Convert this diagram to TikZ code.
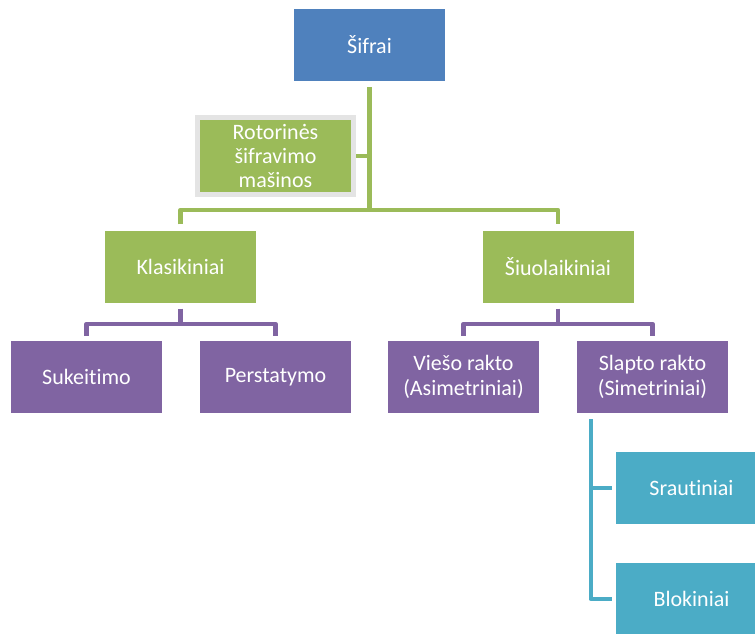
\documentclass[tikz,border=0pt]{standalone}
\usepackage{fontspec}
\setmainfont[Ligatures={NoCommon}]{Carlito}
\definecolor{cblue}{HTML}{4F81BD}
\definecolor{cgreen}{HTML}{9BBB59}
\definecolor{cpurple}{HTML}{8064A2}
\definecolor{cteal}{HTML}{4BACC6}
\definecolor{cframe}{HTML}{E4E4E4}
\tikzset{
  box/.style={rectangle, inner sep=0pt, minimum width=151pt, minimum height=72pt,
    text=white, align=center, font=\fontsize{22}{24.4}\selectfont},
  bluebox/.style={box, fill=cblue},
  greenbox/.style={box, fill=cgreen},
  purplebox/.style={box, fill=cpurple},
  tealbox/.style={box, fill=cteal},
  conn/.style={line width=4.5pt, line join=round},
  gline/.style={conn, draw=cgreen},
  pline/.style={conn, draw=cpurple},
  tline/.style={conn, draw=cteal},
}
\begin{document}
\begin{tikzpicture}[x=1pt,y=-1pt]
\useasboundingbox (0,0) rectangle (755,633);
\clip (0,0) rectangle (755,633);

% top level
\node[bluebox] (sifrai) at (369.5,45) {Šifrai};
\node[greenbox, minimum width=156pt, minimum height=77pt, draw=cframe, line width=5pt]
  (rotor) at (275.5,156) {Rotorinės\\šifravimo\\mašinos};

% second level
\node[greenbox] (klas) at (180.5,266.5) {Klasikiniai};
\node[greenbox] (siuo) at (558,266.5) {Šiuolaikiniai};

% third level
\node[purplebox] (suk)  at (86.5,377)  {Sukeitimo};
\node[purplebox] (pers) at (275.5,377) {Perstatymo};
\node[purplebox] (vies) at (463.5,377) {Viešo rakto\\(Asimetriniai)};
\node[purplebox] (slap) at (652.5,377) {Slapto rakto\\(Simetriniai)};

% symmetric ciphers
\node[tealbox] (sraut) at (691.5,488) {Srautiniai};
\node[tealbox] (blok)  at (691.5,599) {Blokiniai};

% green connectors
\coordinate (gbus) at (369.5,210);
\draw[gline] ([yshift=-6pt]sifrai.south) -- (gbus);
\draw[gline] ([yshift=6pt]klas.north) |- (gbus) -| ([yshift=6pt]siuo.north);
\draw[gline] (rotor.east) -- (rotor.east -| gbus);

% purple connectors
\coordinate (pbusA) at (180.5,324);
\coordinate (pbusB) at (558,324);
\draw[pline] ([yshift=-6pt]klas.south) -- (pbusA);
\draw[pline] ([yshift=5pt]suk.north) |- (pbusA) -| ([yshift=5pt]pers.north);
\draw[pline] ([yshift=-6pt]siuo.south) -- (pbusB);
\draw[pline] ([yshift=5pt]vies.north) |- (pbusB) -| ([yshift=5pt]slap.north);

% teal connectors
\coordinate (ttop) at ([xshift=14pt,yshift=-6pt]slap.south west);
\draw[tline] (ttop) |- ([xshift=-4pt]blok.west);
\draw[tline] (ttop |- sraut.west) -- ([xshift=-4pt]sraut.west);
\end{tikzpicture}
\end{document}
